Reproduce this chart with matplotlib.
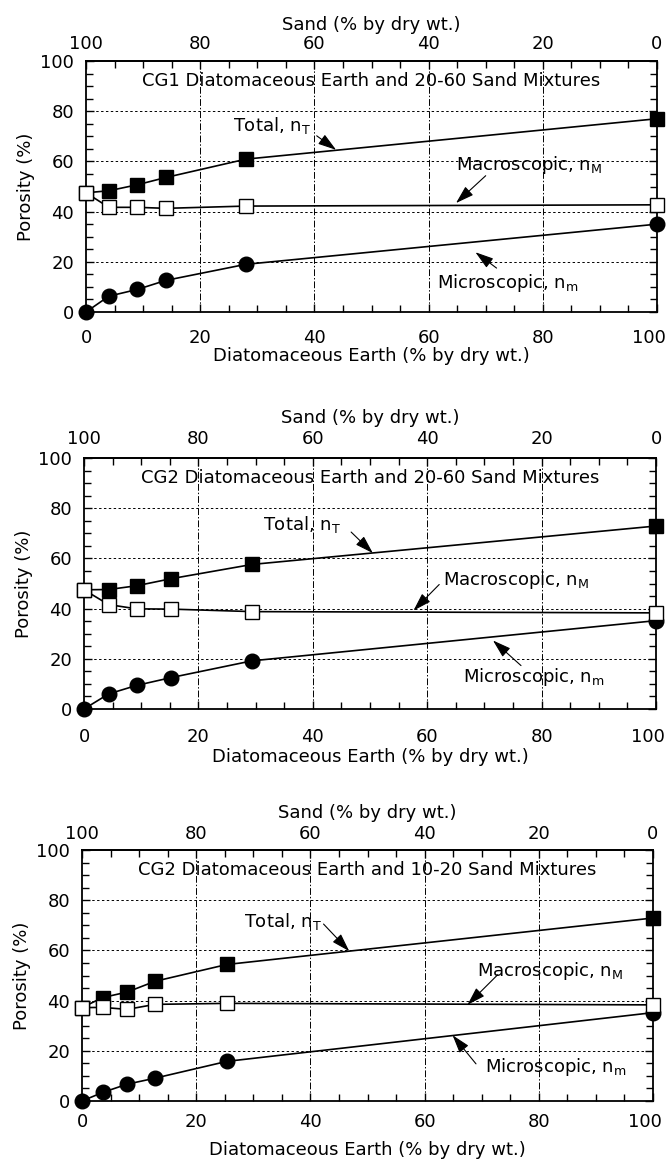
import matplotlib
matplotlib.use("Agg")
import matplotlib.pyplot as plt
from matplotlib.ticker import MultipleLocator, FixedLocator
from matplotlib.transforms import ScaledTranslation

plt.rcParams['font.family'] = ['DejaVu Sans']
plt.rcParams['mathtext.fontset'] = 'dejavusans'

# ---- data ----
titles = ["CG1 Diatomaceous Earth and 20-60 Sand Mixtures",
          "CG2 Diatomaceous Earth and 20-60 Sand Mixtures",
          "CG2 Diatomaceous Earth and 10-20 Sand Mixtures"]

de1 = [0, 4, 9, 14, 28, 100]
total1 = [47.5, 48.3, 50.7, 53.6, 60.9, 77.0]
macro1 = [47.5, 41.7, 41.7, 41.3, 42.2, 42.7]
micro1 = [0, 6.3, 9.0, 12.6, 19.0, 35.0]

de2 = [0, 4.3, 9.2, 15.2, 29.4, 100]
total2 = [47.5, 47.6, 49.1, 51.9, 57.6, 72.9]
macro2 = [47.5, 41.6, 39.9, 39.8, 38.8, 38.3]
micro2 = [0, 6.0, 9.4, 12.5, 19.2, 35.2]

de3 = [0, 3.6, 7.9, 12.8, 25.4, 100]
total3 = [37.2, 41.2, 43.4, 47.7, 54.4, 72.9]
macro3 = [37.2, 37.3, 36.5, 38.5, 38.9, 38.3]
micro3 = [0, 3.4, 6.7, 9.1, 15.8, 35.2]

ticks = [0, 20, 40, 60, 80, 100]

label_total = "Total, n$_{\\mathrm{T}}$"
label_macro = "Macroscopic, n$_{\\mathrm{M}}$"
label_micro = "Microscopic, n$_{\\mathrm{m}}$"

panels = [
    dict(de=de1, total=total1, macro=macro1, micro=micro1, title=titles[0],
         rect=[86/670, 1-312/1160, 571/670, 251/1160],
         xpad=12.5, xlpad=0, tpad=5.5, slpad=4,
         txt=[(25.8, 72.3), (64.8, 56.4), (61.4, 9.7)],
         arr=[((40.4, 70.2), (43.8, 64.6)), ((70, 54.3), (64.8, 43.4)), ((71.9, 17.5), (68.2, 23.8))]),
    dict(de=de2, total=total2, macro=macro2, micro=micro2, title=titles[1],
         rect=[84/670, 1-709/1160, 572/670, 251/1160],
         xpad=13.5, xlpad=1.5, tpad=7.5, slpad=5,
         txt=[(31.3, 71.3), (62.8, 49.4), (66.2, 10.8)],
         arr=[((46.7, 70.5), (50.5, 62.1)), ((62.1, 49.6), (57.6, 39.2)), ((76.4, 17.3), (71.5, 27.3))]),
    dict(de=de3, total=total3, macro=macro3, micro=micro3, title=titles[2],
         rect=[82/670, 1-1101/1160, 571/670, 251/1160],
         xpad=8.5, xlpad=7, tpad=5, slpad=5,
         txt=[(28.4, 69.3), (69.2, 49.8), (70.5, 11.6)],
         arr=[((42.3, 70.5), (46.8, 59.7)), ((72.8, 50.3), (67.5, 38.3)), ((69, 14.8), (64.9, 26.2))]),
]

fig = plt.figure(figsize=(6.7, 11.6), dpi=100)
FS = 13
axes = []

for p in panels:
    ax = fig.add_axes(p['rect'])
    axes.append(ax)
    ax.set_xlim(0, 100)
    ax.set_ylim(0, 100)
    for v in [20, 40, 60, 80]:
        ax.axvline(v, color='k', lw=0.7, ls=(0, (7, 2, 1.5, 2)), zorder=1)
        ax.axhline(v, color='k', lw=0.7, ls=(0, (2.5, 2.5)), zorder=1)
    ax.plot(p['de'], p['total'], '-', color='k', lw=1.2, marker='s', ms=10.5,
            mfc='k', mec='k', clip_on=False, zorder=3)
    ax.plot(p['de'], p['micro'], '-', color='k', lw=1.2, marker='o', ms=10.5,
            mfc='k', mec='k', clip_on=False, zorder=4)
    ax.plot(p['de'], p['macro'], '-', color='k', lw=1.2, marker='s', ms=10.5,
            mfc='white', mec='k', mew=1.0, clip_on=False, zorder=5)

    ax.text(50, 92, p['title'], ha='center', va='center', fontsize=FS)
    for lab, (tx, ty), ((x0, y0), (x1, y1)) in zip([label_total, label_macro, label_micro], p['txt'], p['arr']):
        ax.text(tx, ty, lab, ha='left', va='baseline', fontsize=FS)
        ax.annotate('', xy=(x1, y1), xytext=(x0, y0),
                    arrowprops=dict(arrowstyle='-|>,head_length=0.7,head_width=0.22',
                                    lw=0.8, color='k', mutation_scale=16,
                                    shrinkA=0, shrinkB=0))

    ax.xaxis.set_major_locator(FixedLocator(ticks))
    ax.xaxis.set_minor_locator(MultipleLocator(5))
    ax.yaxis.set_major_locator(FixedLocator(ticks))
    ax.yaxis.set_minor_locator(MultipleLocator(5))
    ax.tick_params(which='both', direction='in', right=True, top=False,
                   labelsize=FS, width=1.0)
    ax.tick_params(which='major', length=6)
    ax.tick_params(which='minor', length=5)
    ax.tick_params(axis='x', pad=p['xpad'])
    ax.tick_params(axis='y', pad=8.5)
    for s in ax.spines.values():
        s.set_linewidth(1.3)
    ax.set_xlabel("Diatomaceous Earth (% by dry wt.)", fontsize=FS, labelpad=p['xlpad'])
    ax.set_ylabel("Porosity (%)", fontsize=FS, labelpad=4)

    sec = ax.secondary_xaxis('top', functions=(lambda x: 100 - x, lambda x: 100 - x))
    sec.xaxis.set_major_locator(FixedLocator(ticks))
    sec.xaxis.set_minor_locator(FixedLocator(list(range(0, 101, 5))))
    sec.tick_params(which='both', direction='in', labelsize=FS, width=1.0, pad=p['tpad'])
    sec.tick_params(which='major', length=6)
    sec.tick_params(which='minor', length=5)
    sec.spines['top'].set_linewidth(1.3)
    sec.set_xlabel("Sand (% by dry wt.)", fontsize=FS, labelpad=p['slpad'])

fig.canvas.draw()
for ax in axes:
    labs = ax.get_xticklabels()
    last = labs[-1]
    last.set_transform(last.get_transform() + ScaledTranslation(-6/72, 0, fig.dpi_scale_trans))

fig.savefig("out.png", dpi=100)
